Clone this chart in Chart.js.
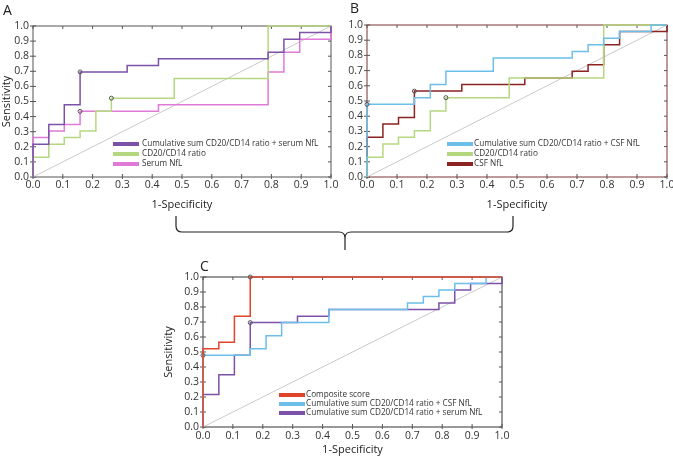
<!DOCTYPE html>
<html>
<head>
<meta charset="utf-8">
<script src="https://cdn.jsdelivr.net/npm/chart.js@4.4.1/dist/chart.umd.min.js"></script>
<style>
  body { margin: 0; background: #fff; }
  #fig { position: relative; width: 673px; height: 457px; overflow: hidden; font-family: 'Open Sans', sans-serif; }
  #fig canvas { position: absolute; }
  .letter { position: absolute; font-size: 14px; line-height: 14px; color: #222; }
  #brace { position: absolute; left: 0; top: 0; }
</style>
</head>
<body>
<div id="fig">
  <canvas id="chartA" width="345" height="215" style="left:0;top:0"></canvas>
  <canvas id="chartB" width="339" height="215" style="left:334px;top:0"></canvas>
  <canvas id="chartC" width="352" height="202" style="left:160px;top:255px"></canvas>
  <div class="letter" style="left:3px;top:3px">A</div>
  <div class="letter" style="left:350px;top:1px">B</div>
  <div class="letter" style="left:200px;top:259px">C</div>
  <svg id="brace" width="673" height="457">
    <path d="M176,216 V226 Q176,232 182,232 H339 Q345,232 345,238 V250 M345,238 Q345,232 351,232 H507 Q513,232 513,226 V216"
          fill="none" stroke="#222" stroke-width="1.2"/>
  </svg>
</div>
<script>
// ROC curves: false positive rate where each step happens, and the sensitivity reached there
const fprCumSerum = [0, 0.053, 0.105, 0.158, 0.316, 0.421, 0.789, 0.842, 0.895, 1.0];
const tprCumSerum = [0.217, 0.348, 0.478, 0.696, 0.739, 0.783, 0.826, 0.913, 0.957, 1.0];

const fprRatio = [0, 0.053, 0.105, 0.158, 0.211, 0.263, 0.474, 0.789];
const tprRatio = [0.130, 0.217, 0.261, 0.304, 0.435, 0.522, 0.652, 1.0];

const fprSerum = [0, 0.053, 0.105, 0.158, 0.421, 0.789, 0.842, 0.895, 1.0];
const tprSerum = [0.261, 0.304, 0.348, 0.435, 0.478, 0.696, 0.826, 0.913, 1.0];

const fprCumCsf = [0, 0.158, 0.211, 0.263, 0.421, 0.684, 0.737, 0.789, 0.842, 0.947];
const tprCumCsf = [0.478, 0.522, 0.609, 0.696, 0.783, 0.826, 0.870, 0.913, 0.957, 1.0];

const fprCsf = [0, 0.053, 0.105, 0.158, 0.316, 0.526, 0.684, 0.737, 0.789, 0.842, 1.0];
const tprCsf = [0.261, 0.348, 0.391, 0.565, 0.609, 0.652, 0.696, 0.739, 0.870, 0.957, 1.0];

const fprComposite = [0, 0.053, 0.105, 0.158];
const tprComposite = [0.522, 0.565, 0.739, 1.0];

// optimal cut-off marked on each curve [fpr, tpr]
const cutCumSerum = [0.158, 0.696];
const cutRatio = [0.263, 0.522];
const cutSerum = [0.158, 0.435];
const cutCumCsf = [0, 0.478];
const cutCsf = [0.158, 0.565];
const cutComposite = [0.158, 1.0];

const chance = [{x: 0, y: 0}, {x: 1, y: 1}];

const FONT = 'Open Sans';

function rocSet(label, fpr, tpr, color, cut) {
  const pts = [{x: 0, y: 0}];
  fpr.forEach((x, i) => pts.push({x: x, y: tpr[i]}));
  const last = pts[pts.length - 1];
  if (last.x < 1) pts.push({x: 1, y: last.y});
  return {
    label: label,
    data: pts,
    borderColor: color,
    borderWidth: 1.5,
    stepped: 'before',
    clip: 3,
    pointRadius: pts.map(p => (p.x === cut[0] && p.y === cut[1]) ? 2 : 0),
    pointBorderColor: '#555',
    pointBackgroundColor: 'rgba(255,255,255,0)',
    pointBorderWidth: 1
  };
}

function chanceSet() {
  return { label: '', data: chance, borderColor: '#bdbdbd', borderWidth: 0.8, pointRadius: 0 };
}

// box round the plot, ticks on all four sides
const frame = {
  id: 'frame',
  beforeDatasetsDraw(chart, args, opts) {
    const {ctx, chartArea: a, scales} = chart;
    ctx.save();
    ctx.strokeStyle = opts.color;
    ctx.lineWidth = 1;
    ctx.strokeRect(a.left, a.top, a.right - a.left, a.bottom - a.top);
    ctx.strokeStyle = '#555';
    ctx.beginPath();
    scales.x.ticks.forEach(t => {
      const px = scales.x.getPixelForValue(t.value);
      ctx.moveTo(px, a.bottom + 2); ctx.lineTo(px, a.bottom - 3);
      ctx.moveTo(px, a.top); ctx.lineTo(px, a.top + 3);
    });
    scales.y.ticks.forEach(t => {
      const py = scales.y.getPixelForValue(t.value);
      ctx.moveTo(a.left - 3, py); ctx.lineTo(a.left + 3, py);
      ctx.moveTo(a.right, py); ctx.lineTo(a.right - 3, py);
    });
    ctx.stroke();
    ctx.restore();
  }
};

// legend drawn inside the plot, lower right
const insideLegend = {
  id: 'insideLegend',
  afterDatasetsDraw(chart, args, opts) {
    const {ctx, chartArea: a} = chart;
    ctx.save();
    ctx.font = opts.size + 'px "' + FONT + '"';
    ctx.textBaseline = 'middle';
    chart.data.datasets.filter(d => d.label).forEach((d, i) => {
      const x = a.left + opts.left;
      const y = a.bottom - opts.bottom + i * opts.gap;
      ctx.fillStyle = d.borderColor;
      ctx.fillRect(x, y - 2, 26, 4);
      ctx.fillStyle = '#333';
      ctx.fillText(d.label, x + 26 + opts.space, y);
    });
    ctx.restore();
  }
};

function axes(o) {
  return {
    x: {
      type: 'linear', min: 0, max: 1,
      grid: { display: false, drawTicks: false },
      border: { display: false },
      ticks: { stepSize: 0.1, padding: o.xTickPad, color: '#333', autoSkip: false, maxRotation: 0,
               font: { family: FONT, size: 10.5 }, callback: v => v.toFixed(1) },
      title: { display: true, text: '1-Specificity', color: '#222',
               font: { family: FONT, size: 11 }, padding: { top: 0, bottom: o.xTitlePad } },
      afterFit(s) { s.height = o.xH; s.paddingLeft = 0; s.paddingRight = 0; }
    },
    y: {
      type: 'linear', min: 0, max: 1,
      grid: { display: false, drawTicks: false },
      border: { display: false },
      ticks: { stepSize: 0.1, padding: 4, color: '#333', autoSkip: false,
               font: { family: FONT, size: 10.5 }, callback: v => v.toFixed(1) },
      title: { display: o.yTitle, text: 'Sensitivity', color: '#222',
               font: { family: FONT, size: 11 }, padding: { top: o.yTitlePad, bottom: 0 } },
      afterFit(s) { s.width = o.yW; s.paddingTop = 0; s.paddingBottom = 0; }
    }
  };
}

function makeChart(id, datasets, pad, ax, frameColor, leg) {
  return new Chart(document.getElementById(id), {
    type: 'line',
    data: { datasets: datasets },
    options: {
      responsive: false,
      animation: false,
      layout: { padding: pad },
      scales: axes(ax),
      plugins: {
        legend: { display: false },
        tooltip: { enabled: false },
        frame: { color: frameColor },
        insideLegend: leg
      }
    },
    plugins: [frame, insideLegend]
  });
}

const purple = '#7b52a8', green = '#b5d77f', pink = '#e07ad8';
const blue = '#6cbfe9', brown = '#8b2323', red = '#e0452c';

makeChart('chartA', [
  rocSet('Cumulative sum CD20/CD14 ratio + serum NfL', fprCumSerum, tprCumSerum, purple, cutCumSerum),
  rocSet('CD20/CD14 ratio', fprRatio, tprRatio, green, cutRatio),
  rocSet('Serum NfL', fprSerum, tprSerum, pink, cutSerum),
  chanceSet()
], { left: 0, top: 26, right: 14, bottom: 0 },
   { xH: 38, yW: 33, xTickPad: 2, xTitlePad: 4, yTitle: true, yTitlePad: 0 },
   '#555', { left: 80, bottom: 33, gap: 10, space: 3, size: 8.2 });

makeChart('chartB', [
  rocSet('Cumulative sum CD20/CD14 ratio + CSF NfL', fprCumCsf, tprCumCsf, blue, cutCumCsf),
  rocSet('CD20/CD14 ratio', fprRatio, tprRatio, green, cutRatio),
  rocSet('CSF NfL', fprCsf, tprCsf, brown, cutCsf),
  chanceSet()
], { left: 0, top: 25, right: 6, bottom: 0 },
   { xH: 38, yW: 33, xTickPad: 2, xTitlePad: 4, yTitle: false, yTitlePad: 0 },
   '#7a3333', { left: 80, bottom: 33, gap: 10, space: 1, size: 8.2 });

makeChart('chartC', [
  rocSet('Composite score', fprComposite, tprComposite, red, cutComposite),
  rocSet('Cumulative sum CD20/CD14 ratio + CSF NfL', fprCumCsf, tprCumCsf, blue, cutCumCsf),
  rocSet('Cumulative sum CD20/CD14 ratio + serum NfL', fprCumSerum, tprCumSerum, purple, cutCumSerum),
  chanceSet()
], { left: 0, top: 22, right: 10, bottom: 0 },
   { xH: 30, yW: 43, xTickPad: 3, xTitlePad: 1, yTitle: true, yTitlePad: 2 },
   '#333', { left: 76, bottom: 32, gap: 9, space: 1, size: 8.2 });
</script>
</body>
</html>
